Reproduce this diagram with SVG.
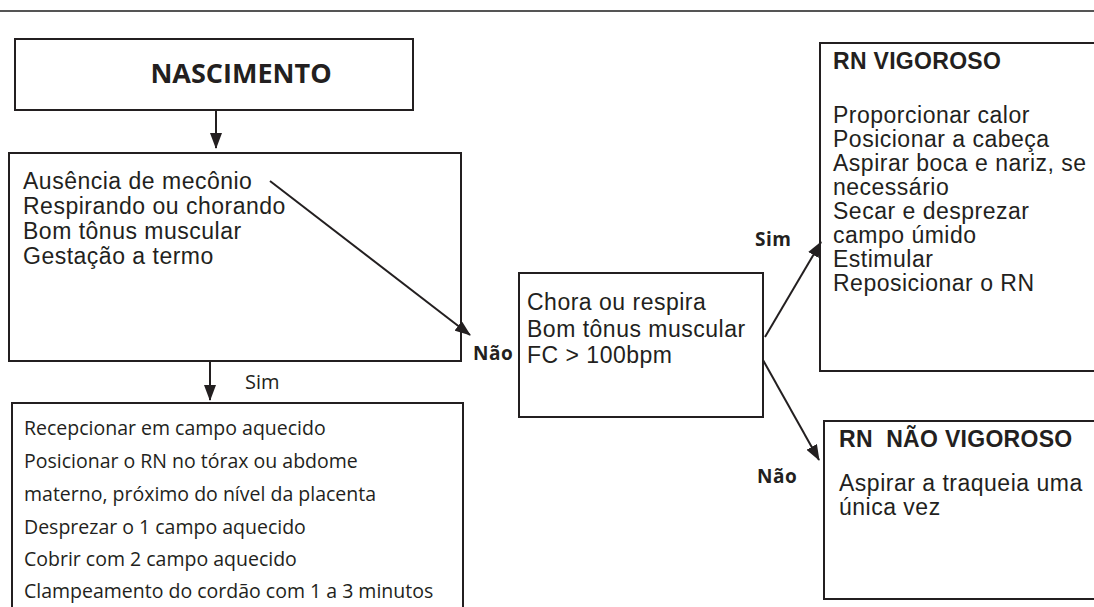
<svg xmlns="http://www.w3.org/2000/svg" width="1094" height="607" viewBox="0 0 1094 607">
<defs>
<style>
.box{fill:#fff;stroke:#231f20;stroke-width:2}
.conn{stroke:#231f20;stroke-width:2;fill:none}
.arial{font-family:"Liberation Sans",Arial,sans-serif;fill:#231f20;letter-spacing:0.5px}
.ttl{font-family:"Liberation Sans",Arial,sans-serif;fill:#231f20;font-weight:bold;font-size:23px;letter-spacing:0.3px}
.myr{font-family:"Open Sans","Noto Sans",sans-serif;fill:#231f20}
.lbl{font-family:"Open Sans","Noto Sans",sans-serif;font-weight:bold;font-size:19px;letter-spacing:0.5px;fill:#231f20}
</style>
<marker id="ah" viewBox="0 0 16 12" refX="15" refY="6" markerWidth="16" markerHeight="12" markerUnits="userSpaceOnUse" orient="auto">
<path d="M0,0 L16,6 L0,12 z" fill="#231f20"/>
</marker>
</defs>
<rect width="1094" height="607" fill="#fff"/>
<line x1="0" y1="11" x2="1094" y2="11" stroke="#555" stroke-width="2"/>

<g id="nascimento">
<rect class="box" x="15" y="39" width="398" height="71"/>
<text class="myr" x="241" y="83" font-size="27" font-weight="bold" text-anchor="middle">NASCIMENTO</text>
</g>

<g id="avaliacao">
<rect class="box" x="9" y="153" width="452" height="208"/>
<text class="arial" font-size="23">
<tspan x="23" y="189">Ausência de mecônio</tspan>
<tspan x="23" y="214">Respirando ou chorando</tspan>
<tspan x="23" y="239">Bom tônus muscular</tspan>
<tspan x="23" y="264">Gestação a termo</tspan>
</text>
</g>

<g id="cuidados">
<rect class="box" x="12" y="403" width="451" height="230"/>
<text class="myr" font-size="19.5">
<tspan x="24" y="435">Recepcionar em campo aquecido</tspan>
<tspan x="24" y="468">Posicionar o RN no tórax ou abdome</tspan>
<tspan x="24" y="501">materno, próximo do nível da placenta</tspan>
<tspan x="24" y="534">Desprezar o 1 campo aquecido</tspan>
<tspan x="24" y="566">Cobrir com 2 campo aquecido</tspan>
<tspan x="24" y="598">Clampeamento do cordão com 1 a 3 minutos</tspan>
</text>
</g>

<g id="reavaliacao">
<rect class="box" x="519" y="273" width="244" height="144"/>
<text class="arial" font-size="23">
<tspan x="527" y="310">Chora ou respira</tspan>
<tspan x="527" y="337">Bom tônus muscular</tspan>
<tspan x="527" y="363">FC &gt; 100bpm</tspan>
</text>
</g>

<g id="vigoroso">
<rect class="box" x="820" y="43" width="290" height="328"/>
<text class="ttl" x="833" y="69">RN VIGOROSO</text>
<text class="arial" font-size="23">
<tspan x="833" y="123">Proporcionar calor</tspan>
<tspan x="833" y="147">Posicionar a cabeça</tspan>
<tspan x="833" y="171">Aspirar boca e nariz, se</tspan>
<tspan x="833" y="195">necessário</tspan>
<tspan x="833" y="219">Secar e desprezar</tspan>
<tspan x="833" y="243">campo úmido</tspan>
<tspan x="833" y="267">Estimular</tspan>
<tspan x="833" y="291">Reposicionar o RN</tspan>
</text>
</g>

<g id="nao-vigoroso">
<rect class="box" x="824" y="421" width="290" height="178"/>
<text class="ttl" x="839" y="447" xml:space="preserve">RN  NÃO VIGOROSO</text>
<text class="arial" font-size="23">
<tspan x="839" y="491">Aspirar a traqueia uma</tspan>
<tspan x="839" y="515">única vez</tspan>
</text>
</g>

<g id="connectors">
<line class="conn" x1="216" y1="110" x2="216" y2="148" marker-end="url(#ah)"/>
<line class="conn" x1="210" y1="361" x2="210" y2="400" marker-end="url(#ah)"/>
<line class="conn" x1="270" y1="181" x2="470" y2="335" marker-end="url(#ah)"/>
<line class="conn" x1="765" y1="337" x2="821" y2="242" marker-end="url(#ah)"/>
<line class="conn" x1="763" y1="360" x2="819" y2="460" marker-end="url(#ah)"/>
<text class="myr" x="245" y="389" font-size="20">Sim</text>
<text class="lbl" x="473" y="360">Não</text>
<text class="lbl" x="755" y="246">Sim</text>
<text class="lbl" x="757" y="483">Não</text>
</g>
</svg>
